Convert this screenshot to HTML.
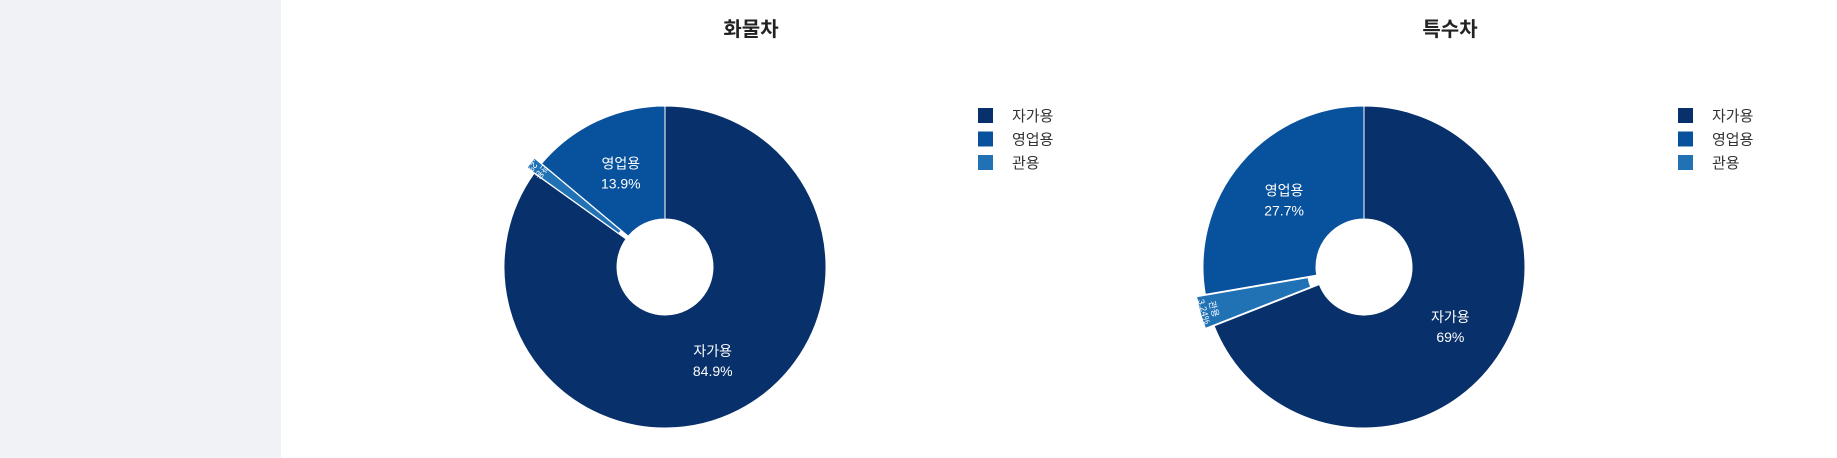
<!DOCTYPE html>
<html><head><meta charset="utf-8">
<style>
html,body{margin:0;padding:0;width:1837px;height:458px;overflow:hidden;background:#fff;font-family:"Liberation Sans","Noto Sans CJK KR",sans-serif;}
#side{position:absolute;left:0;top:0;width:281px;height:458px;background:#f0f2f5;}
svg{position:absolute;left:0;top:0;}
</style></head><body>
<div id="side"></div>
<svg id="chart" width="1837" height="458"></svg>
<script>
const categories = ["자가용","관용","영업용"];
const truckValues = [84.9, 1.2, 13.9];
const truckLabels = ["84.9%","1.2%","13.9%"];
const specialValues = [69, 3.24, 27.7];
const specialLabels = ["69%","3.24%","27.7%"];
const legendOrder = ["자가용","영업용","관용"];
const colors = {"자가용":"#08306b","영업용":"#08519c","관용":"#2171b5"};

const NS="http://www.w3.org/2000/svg";
const svg=document.getElementById('chart');
function mk(tag,attrs,parent){const e=document.createElementNS(NS,tag);for(const k in attrs)e.setAttribute(k,attrs[k]);(parent||svg).appendChild(e);return e;}

function pt(cx,cy,r,a){return [cx+r*Math.sin(a),cy-r*Math.cos(a)];}
function arc(cx,cy,r0,r1,a0,a1){
  const large=(a1-a0)>Math.PI?1:0;
  const p0=pt(cx,cy,r1,a0),p1=pt(cx,cy,r1,a1),p2=pt(cx,cy,r0,a1),p3=pt(cx,cy,r0,a0);
  return `M${p0[0]},${p0[1]}A${r1},${r1} 0 ${large} 1 ${p1[0]},${p1[1]}L${p2[0]},${p2[1]}A${r0},${r0} 0 ${large} 0 ${p3[0]},${p3[1]}Z`;
}

function donut(name,cx,cy,values,labels,title,lx){
  const g=mk('g',{});
  
  
  const t=mk('text',{x:cx+86,y:36,'text-anchor':'middle','font-size':20,'font-weight':'bold',fill:'#222'},g);
  t.textContent=title;
  
  
  const total=values.reduce((a,b)=>a+b,0);
  const r0=48,r1=161;
  let a=0;
  values.forEach((v,i)=>{
    const a0=a,a1=a+v/total*2*Math.PI;a=a1;
    const mid=(a0+a1)/2;
    const small=v/total<0.05;
    const off=small?9:0;
    const ox=off*Math.sin(mid),oy=-off*Math.cos(mid);
    const p=mk('path',{d:arc(cx+ox,cy+oy,r0,r1,a0,a1),fill:colors[categories[i]],stroke:'#fff','stroke-width':1},g);
    
    
    if(!small){
      const [tx,ty]=pt(cx,cy,(r0+r1)/2,mid);
      const t1=mk('text',{x:tx,y:ty-4,'text-anchor':'middle','font-size':14,fill:'#fff'},g);
      t1.textContent=categories[i];
      
      
      const t2=mk('text',{x:tx,y:ty+16,'text-anchor':'middle','font-size':14,fill:'#fff'},g);
      t2.textContent=labels[i];
      
      
    } else {
      const [tx,ty]=pt(cx+ox,cy+oy,r1-10,mid);
      const deg=mid*180/Math.PI-180;
      const tg=mk('g',{transform:`translate(${tx},${ty}) rotate(${deg})`},g);
      const s1=mk('text',{x:0,y:-1,'text-anchor':'middle','font-size':9,fill:'#fff'},tg);
      s1.textContent=categories[i];
      
      
      const s2=mk('text',{x:0,y:9,'text-anchor':'middle','font-size':9,fill:'#fff'},tg);
      s2.textContent=labels[i];
      
      
    }
  });
  legendOrder.forEach((c,i)=>{
    const y=108+i*23.5;
    const r=mk('rect',{x:lx,y:y,width:15,height:15,fill:colors[c]},g);
    
    
    const lt=mk('text',{x:lx+34,y:y+13,'font-size':15,fill:'#333'},g);
    lt.textContent=c;
    
    
  });
}
donut('truck-donut',665,267,truckValues,truckLabels,'화물차',978);
donut('special-donut',1364,267,specialValues,specialLabels,'특수차',1678);
</script>
</body></html>
